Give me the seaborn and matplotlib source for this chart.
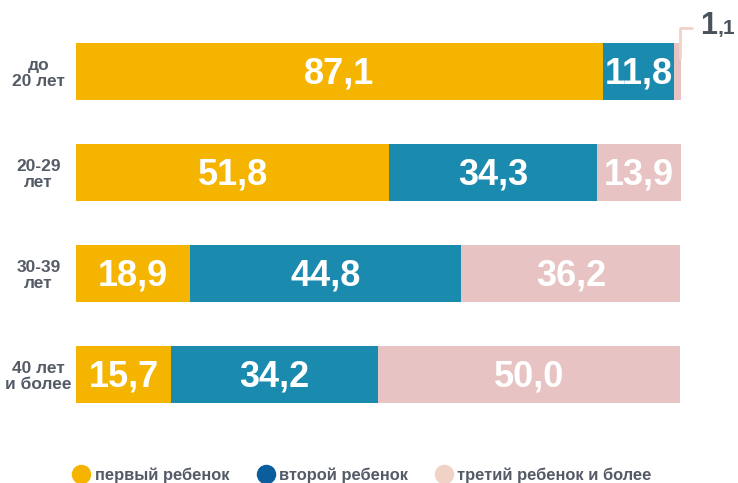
import numpy as np
import pandas as pd
import seaborn as sns
import matplotlib.pyplot as plt
from matplotlib.lines import Line2D

sns.set_theme(style="white")
plt.rcParams['font.family'] = ['Liberation Sans', 'DejaVu Sans']

# data
ages = ['до\n20 лет', '20-29\nлет', '30-39\nлет', '40 лет\nи более']
first = [87.1, 51.8, 18.9, 15.7]
second = [11.8, 34.3, 44.8, 34.2]
third = [1.1, 13.9, 36.2, 50.0]
series_names = ['первый ребенок', 'второй ребенок', 'третий ребенок и более']

bar_colors = ['#F5B400', '#1A8AAE', '#E8C3C3']
legend_colors = ['#F5B400', '#0A5E9E', '#F0D3C6']
grey = '#545B66'

df = pd.DataFrame({'age': ages, 'first': first, 'second': second, 'third': third})
df['c1'] = df['first']
df['c2'] = df['first'] + df['second']
df['c3'] = df['c2'] + df['third']

fig = plt.figure(figsize=(7.38, 4.83), dpi=100)
ax = fig.add_axes([76 / 738, 58 / 483, 605 / 738, 404 / 483])

# stacked bars: draw cumulative totals, widest first
for col, color in zip(['c3', 'c2', 'c1'], bar_colors[::-1]):
    sns.barplot(data=df, x=col, y='age', orient='h', color=color,
                width=0.565, saturation=1, ax=ax, linewidth=0)

ax.set_xlim(0, 100)
ax.set_ylim(3.5, -0.5)
ax.set_xlabel('')
ax.set_ylabel('')
ax.set_xticks([])
for s in ax.spines.values():
    s.set_visible(False)
ax.tick_params(axis='y', length=0, pad=4)
for lab in ax.get_yticklabels():
    lab.set_fontweight('bold')
    lab.set_fontsize(12.5)
    lab.set_color(grey)
    lab.set_horizontalalignment('center')
    lab.set_multialignment('center')
    lab.set_linespacing(1.1)
    lab.set_x(-0.053)

# value labels
for i in range(len(ages)):
    starts = [0, first[i], first[i] + second[i]]
    for start, val in zip(starts, [first[i], second[i], third[i]]):
        if val < 5:
            continue
        ax.text(start + val / 2, i + 0.02, f'{val:.1f}'.replace('.', ','),
                ha='center', va='center', color='white',
                fontsize=26, fontweight='bold')

# callout for the tiny segment
ax.plot([99.8, 99.8, 101.8], [-0.13, -0.43, -0.43], color='#F0D3C6',
        lw=2, clip_on=False)
ax.text(103.1, -0.37, '1', fontsize=22, fontweight='bold', color='#4A525C',
        ha='left', va='baseline', clip_on=False)
ax.text(106.0, -0.37, ',1', fontsize=15, fontweight='bold', color='#4A525C',
        ha='left', va='baseline', clip_on=False)

handles = [Line2D([], [], marker='o', ls='', markersize=13, color=c)
           for c in legend_colors]
leg = fig.legend(handles, series_names, loc='center', ncol=3,
                 bbox_to_anchor=(0.49, 0.016), frameon=False,
                 handlelength=1.2, handletextpad=0.2, columnspacing=1.6,
                 prop={'weight': 'bold', 'size': 11.9})
for t in leg.get_texts():
    t.set_color(grey)

fig.savefig('out.png', dpi=100)
